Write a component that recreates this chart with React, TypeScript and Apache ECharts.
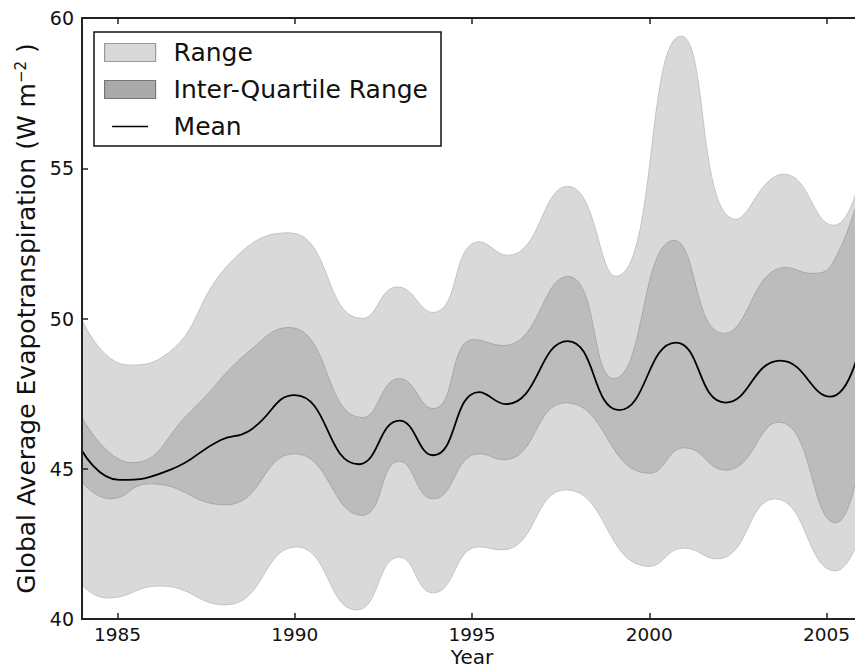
import React, { useEffect, useRef } from "react";
import * as echarts from "echarts";

// [year, value] pairs (turning points and shoulders)
const rangeUpper: number[][] = [
  [1984.0, 49.95], [1985.3, 48.45], [1986.25, 48.7], [1988.3, 52.0], [1989.85, 52.85],
  [1991.9, 50.0], [1992.9, 51.05], [1993.9, 50.2], [1995.2, 52.55], [1996.0, 52.1],
  [1997.7, 54.4], [1999.05, 51.4], [2000.9, 59.4], [2002.45, 53.3], [2003.8, 54.8],
  [2005.2, 53.1], [2006.0, 55.0],
];

const rangeLower: number[][] = [
  [1984.0, 41.13], [1984.7, 40.7], [1986.2, 41.1], [1988.05, 40.47], [1990.05, 42.4],
  [1991.75, 40.3], [1992.95, 42.06], [1993.9, 40.87], [1995.2, 42.4], [1995.85, 42.3],
  [1997.65, 44.3], [2000.0, 41.75], [2000.97, 42.36], [2001.9, 42.0], [2003.55, 44.0],
  [2005.25, 41.6], [2006.0, 43.0],
];

const iqrUpper: number[][] = [
  [1984.0, 46.7], [1985.4, 45.2], [1987.1, 46.95], [1988.7, 48.9], [1989.85, 49.7],
  [1991.9, 46.7], [1992.95, 48.0], [1993.9, 47.0], [1995.05, 49.3], [1995.9, 49.1],
  [1997.7, 51.4], [1999.0, 48.0], [2000.7, 52.6], [2002.1, 49.5], [2003.85, 51.7],
  [2004.6, 51.5], [2005.2, 51.9], [2006.0, 54.5],
];

const iqrLower: number[][] = [
  [1984.0, 44.55], [1984.8, 44.0], [1985.9, 44.5], [1988.05, 43.8], [1990.0, 45.5],
  [1991.9, 43.45], [1992.95, 45.25], [1993.9, 44.0], [1995.2, 45.5], [1995.9, 45.3],
  [1997.65, 47.2], [2000.0, 44.85], [2001.0, 45.7], [2002.15, 44.95], [2003.65, 46.55],
  [2005.25, 43.2], [2006.0, 45.8],
];

const meanValues: number[][] = [
  [1984.0, 45.6], [1985.05, 44.63], [1986.5, 44.97], [1987.9, 45.95], [1988.7, 46.25],
  [1990.0, 47.45], [1991.8, 45.15], [1992.95, 46.6], [1993.9, 45.45], [1995.2, 47.55],
  [1995.95, 47.15], [1997.7, 49.25], [1999.15, 46.95], [2000.75, 49.2], [2002.15, 47.2],
  [2003.7, 48.6], [2005.1, 47.4], [2006.0, 49.4],
];

const yearTicks = [1985, 1990, 1995, 2000, 2005];
const legendNames = ["Range", "Inter-Quartile Range", "Mean"];

const FONT = "DejaVu Sans";
const RANGE_FILL = "#d9d9d9";
const RANGE_EDGE = "#c4c4c4";
const IQR_FILL = "#bcbcbc";
const IQR_EDGE = "#a8a8a8";
const AXIS_COLOR = "#222";
// 51x18 box with a short centred bar, used as the legend glyph of the mean line
const MEAN_ICON = "path://M0,0 M51,18 M7.5,8.2 H43.5 V9.8 H7.5 Z";

export default function App() {
  const ref = useRef<HTMLDivElement>(null);

  useEffect(() => {
    if (!ref.current) return;
    const chart = echarts.init(ref.current, undefined, { renderer: "svg" });

    const axisLine = { show: true, lineStyle: { color: AXIS_COLOR, width: 2 } };
    const tickStyle = { color: AXIS_COLOR, width: 1.5 };

    const band = (name: string, data: number[][], edge: string, fill: string) => ({
      type: "line",
      name,
      data,
      smooth: 0.5,
      symbol: "none",
      lineStyle: { color: edge, width: 1 },
      itemStyle: { color: fill },
      areaStyle: { color: fill, opacity: 1, origin: "start" },
      emphasis: { disabled: true },
      z: 2,
    });

    chart.setOption({
      animation: false,
      textStyle: { fontFamily: FONT },
      grid: { left: 82, right: -7, top: 18, bottom: 50, containLabel: false, outerBoundsMode: "none" },
      legend: {
        orient: "vertical",
        left: 94,
        top: 32,
        padding: [8, 13, 7, 10],
        itemGap: 12,
        itemWidth: 51,
        itemHeight: 18,
        borderColor: "#111",
        borderWidth: 1.5,
        borderRadius: 0,
        backgroundColor: "#fff",
        selectedMode: false,
        textStyle: {
          fontSize: 25,
          fontFamily: FONT,
          color: "#111",
          lineHeight: 24,
          padding: [0, 0, 0, 13],
        },
        data: [
          { name: legendNames[0], icon: "rect", itemStyle: { color: RANGE_FILL, borderColor: "#9a9a9a", borderWidth: 1.2 } },
          { name: legendNames[1], icon: "rect", itemStyle: { color: "#aaaaaa", borderColor: "#777", borderWidth: 1.2 } },
          { name: legendNames[2], icon: MEAN_ICON, itemStyle: { color: "#000", borderWidth: 0 } },
        ],
      },
      xAxis: [
        {
          type: "value",
          min: 1984,
          max: 2006,
          position: "bottom",
          z: 10,
          name: "Year",
          nameLocation: "middle",
          nameGap: 28,
          nameMoveOverlap: false,
          nameTextStyle: { fontSize: 20, fontFamily: FONT, color: "#111", lineHeight: 20 },
          axisLine,
          axisTick: { show: true, inside: true, length: 6, lineStyle: tickStyle, customValues: yearTicks },
          axisLabel: {
            show: true,
            fontSize: 18.5,
            fontFamily: FONT,
            color: "#111",
            lineHeight: 20,
            margin: 5,
            customValues: yearTicks,
            formatter: (v: number) => String(v),
          },
          splitLine: { show: false },
        },
        {
          type: "value",
          min: 1984,
          max: 2006,
          position: "top",
          z: 10,
          axisLine,
          axisTick: { show: true, inside: true, length: 6, lineStyle: tickStyle, customValues: yearTicks },
          axisLabel: { show: false, customValues: yearTicks },
          splitLine: { show: false },
        },
      ],
      yAxis: [
        {
          type: "value",
          min: 40,
          max: 60,
          interval: 5,
          position: "left",
          z: 10,
          name: "{n|Global Average Evapotranspiration (W m}{s|−2}{n| )}",
          nameLocation: "middle",
          nameGap: 40,
          nameRotate: 90,
          nameTextStyle: {
            color: "#111",
            rich: {
              n: { fontSize: 25, fontFamily: FONT, color: "#111" },
              s: { fontSize: 15, fontFamily: FONT, color: "#111", verticalAlign: "top" },
            },
          },
          axisLine,
          axisTick: { show: true, inside: true, length: 6, lineStyle: tickStyle },
          axisLabel: { show: true, fontSize: 19, fontFamily: FONT, color: "#111", margin: 8 },
          splitLine: { show: false },
        },
        {
          type: "value",
          min: 40,
          max: 60,
          interval: 5,
          position: "right",
          z: 10,
          axisLine,
          axisTick: { show: true, inside: true, length: 6, lineStyle: tickStyle },
          axisLabel: { show: false },
          splitLine: { show: false },
        },
      ],
      series: [
        band(legendNames[0], rangeUpper, RANGE_EDGE, RANGE_FILL),
        band(legendNames[1], iqrUpper, IQR_EDGE, IQR_FILL),
        band(legendNames[1], iqrLower, IQR_EDGE, RANGE_FILL),
        band(legendNames[0], rangeLower, RANGE_EDGE, "#ffffff"),
        {
          type: "line",
          name: legendNames[2],
          data: meanValues,
          smooth: 0.5,
          symbol: "none",
          lineStyle: { color: "#000", width: 1.8 },
          itemStyle: { color: "#000" },
          emphasis: { disabled: true },
          z: 3,
        },
      ],
    });

    return () => chart.dispose();
  }, []);

  return (
    <div
      ref={ref}
      style={{ position: "absolute", left: 0, top: 0, width: 855, height: 669, background: "#fff" }}
    />
  );
}
